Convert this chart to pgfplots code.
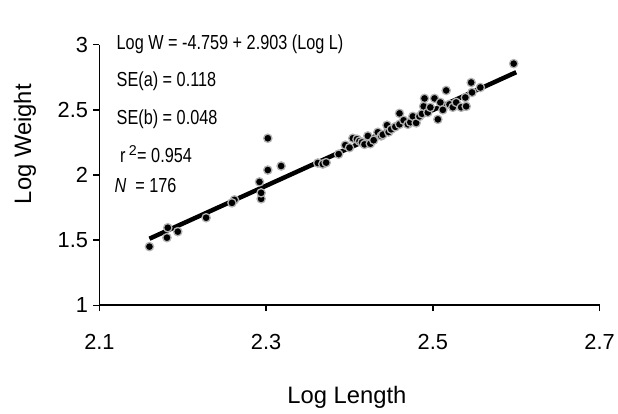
\documentclass[border=0pt]{standalone}
\usepackage{pgfplots}
\pgfplotsset{compat=1.18}
\usepackage{fontspec}
\setmainfont{Liberation Sans}
\newfontfamily\narrowfont[FakeStretch=0.8]{Liberation Sans}
\pgfplotstableread{
x y
2.160 1.450
2.181 1.519
2.182 1.595
2.194 1.565
2.228 1.672
2.262 1.809
2.259 1.786
2.292 1.947
2.294 1.817
2.294 1.863
2.302 2.038
2.318 2.069
2.302 2.282
2.362 2.092
2.368 2.084
2.372 2.095
2.387 2.160
2.395 2.229
2.400 2.210
2.404 2.282
2.409 2.275
2.412 2.260
2.415 2.250
2.418 2.235
2.422 2.300
2.425 2.240
2.429 2.267
2.434 2.328
2.438 2.300
2.440 2.310
2.445 2.382
2.447 2.330
2.450 2.351
2.455 2.370
2.460 2.473
2.460 2.389
2.465 2.420
2.470 2.389
2.473 2.405
2.476 2.450
2.480 2.400
2.484 2.450
2.487 2.470
2.489 2.527
2.490 2.588
2.494 2.480
2.497 2.519
2.502 2.588
2.506 2.427
2.509 2.557
2.512 2.500
2.516 2.649
2.520 2.542
2.524 2.520
2.528 2.557
2.534 2.520
2.539 2.595
2.540 2.527
2.547 2.634
2.546 2.710
2.557 2.672
2.597 2.855
}\pts
\pgfplotstableread{
x y
2.160 1.511
2.600 2.789
}\fit
\begin{document}
\begin{tikzpicture}
\begin{axis}[
  scale only axis,
  width=503bp, height=262bp,
  xmin=2.1, xmax=2.7, ymin=1, ymax=3,
  axis x line=bottom, axis y line=left,
  axis line style={-, line width=1.8bp},
  xtick={2.1,2.3,2.5,2.7},
  ytick={1,1.5,2,2.5,3},
  tick align=outside,
  major tick length=6bp,
  tick style={line width=1.5bp, black},
  /pgf/number format/assume math mode=true,
  /pgf/number format/fixed,
  xticklabel style={font=\fontsize{22}{26}\selectfont, yshift=-20bp},
  yticklabel style={font=\fontsize{22}{26}\selectfont, xshift=-2bp},
  xlabel={Log Length},
  ylabel={Log Weight},
  xlabel style={font=\fontsize{24}{28}\selectfont, at={(axis description cs:0.495,-0.355)}, anchor=center},
  ylabel style={font=\fontsize{24}{28}\selectfont, at={(axis description cs:-0.149,0.618)}, anchor=center},
  clip=false,
]
\addplot[black, line width=4.5bp] table[x=x,y=y] {\fit};
\addplot[only marks, mark=*, mark size=4.2pt,
  mark options={fill=black, draw=black!30, line width=1.3bp}] table[x=x,y=y] {\pts};
\begin{scope}[every node/.style={anchor=west, inner sep=0pt, font=\narrowfont\fontsize{20.5}{24}\selectfont}]
\node at (axis cs:2.1205,3.0) {Log W = -4.759 + 2.903 (Log L)};
\node at (axis cs:2.1205,2.718) {SE(a) = 0.118};
\node at (axis cs:2.1205,2.427) {SE(b) = 0.048};
\node at (axis cs:2.1245,2.160) {r\,$^{\mathrm{2}}$= 0.954};
\node at (axis cs:2.118,1.916) {\textit{N}\ \ = 176};
\end{scope}
\path (rel axis cs:0,0) ++(-100bp,-109bp) coordinate (bl);
\path (rel axis cs:1,1) ++(15bp,45bp) coordinate (tr);
\end{axis}
\useasboundingbox (bl) rectangle (tr);
\end{tikzpicture}
\end{document}
